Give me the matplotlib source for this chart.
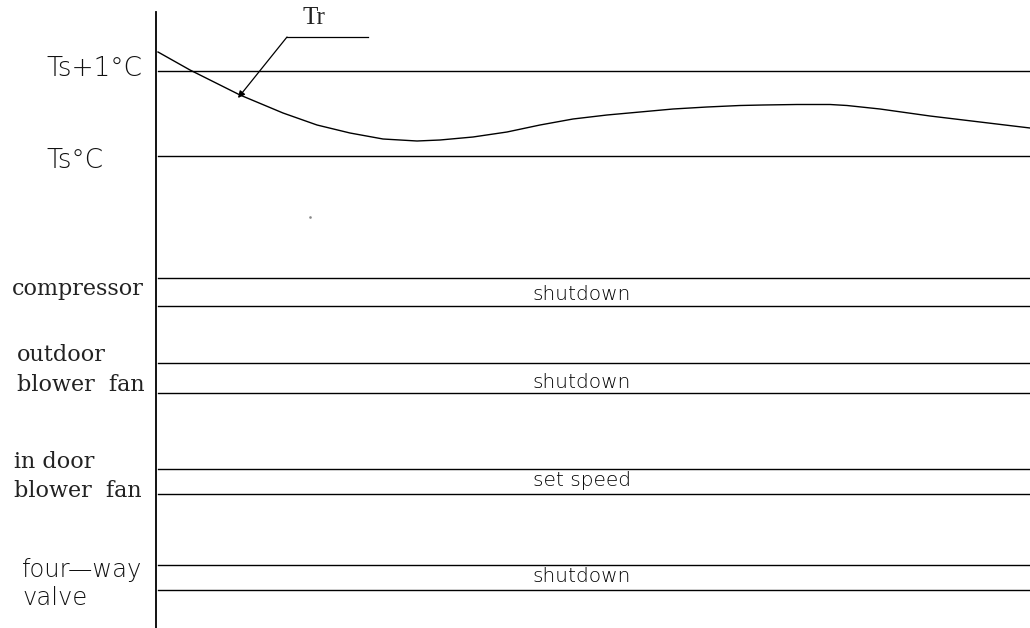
import matplotlib
matplotlib.use("Agg")
import matplotlib.pyplot as plt

# ---- data (pixel-space schematic coordinates) ----
curve_x = [158, 190, 240, 283, 317, 350, 383, 417, 440, 473, 507, 540, 573, 607,
           640, 673, 707, 740, 763, 797, 830, 847, 880, 930, 980, 1030]
curve_y = [52, 70, 95, 113, 125, 133, 139, 141, 140, 137, 132, 125, 119, 115,
           112, 109, 107, 105.5, 105, 104.5, 104.5, 105.5, 109, 116, 122, 128]

temp_labels = ["Ts+1°C", "Ts°C"]
temp_levels = [71, 156]
temp_label_y = [69, 160]

row_top = [278, 363, 469, 565]
row_bottom = [306, 393, 494, 590]
row_state = ["shutdown", "shutdown", "set speed", "shutdown"]
row_state_y = [294, 382, 481, 577]

X0, X1 = 158, 1030
fig = plt.figure(figsize=(10.3, 6.28), dpi=100)
ax = fig.add_axes([0, 0, 1, 1])
ax.set_xlim(0, 1030)
ax.set_ylim(628, 0)
ax.axis("off")

thin = dict(family="DejaVu Sans", fontweight="light", color="#111111")
serif = dict(family="DejaVu Serif", color="#222222")

# vertical axis
ax.plot([156, 156], [12, 628], color="black", lw=1.3)

# temperature levels
for lab, lev, ly in zip(temp_labels, temp_levels, temp_label_y):
    ax.plot([X0, X1], [lev, lev], color="black", lw=1.0)
    ax.text(46, ly, lab, fontsize=19, ha="left", va="center", **thin)

# Tr curve
ax.plot(curve_x, curve_y, color="black", lw=1.0, solid_joinstyle="round")

# leader for Tr
ax.annotate("", xy=(238, 98), xytext=(287, 37),
            arrowprops=dict(arrowstyle="-|>", color="black", lw=0.9,
                            mutation_scale=10, shrinkA=0, shrinkB=0))
ax.plot([287, 368], [37, 37], color="black", lw=0.9)
ax.text(314, 18, "Tr", fontsize=18, family="Liberation Serif",
        ha="center", va="center", color="#222222")

# status rows
for t, b, st, sy in zip(row_top, row_bottom, row_state, row_state_y):
    ax.plot([X0, X1], [t, t], color="black", lw=1.0)
    ax.plot([X0, X1], [b, b], color="black", lw=1.0)
    ax.text(582, sy, st, fontsize=14.5, ha="center", va="center",
            family="DejaVu Sans", fontweight="light", color="black")

ax.text(12, 289, "compressor", fontsize=16, ha="left", va="center", **serif)
ax.text(17, 355, "outdoor", fontsize=16, ha="left", va="center", **serif)
ax.text(17, 385, "blower  fan", fontsize=16, ha="left", va="center", **serif)
ax.text(14, 462, "in door", fontsize=16, ha="left", va="center", **serif)
ax.text(14, 491, "blower  fan", fontsize=16, ha="left", va="center", **serif)
ax.text(22, 570, "four—way", fontsize=17.5, ha="left", va="center", **thin)
ax.text(22, 598, "valve", fontsize=17.5, ha="left", va="center", **thin)

ax.plot([310], [217], marker="s", ms=0.8, color="#888888")

fig.savefig("out.png", dpi=100)
